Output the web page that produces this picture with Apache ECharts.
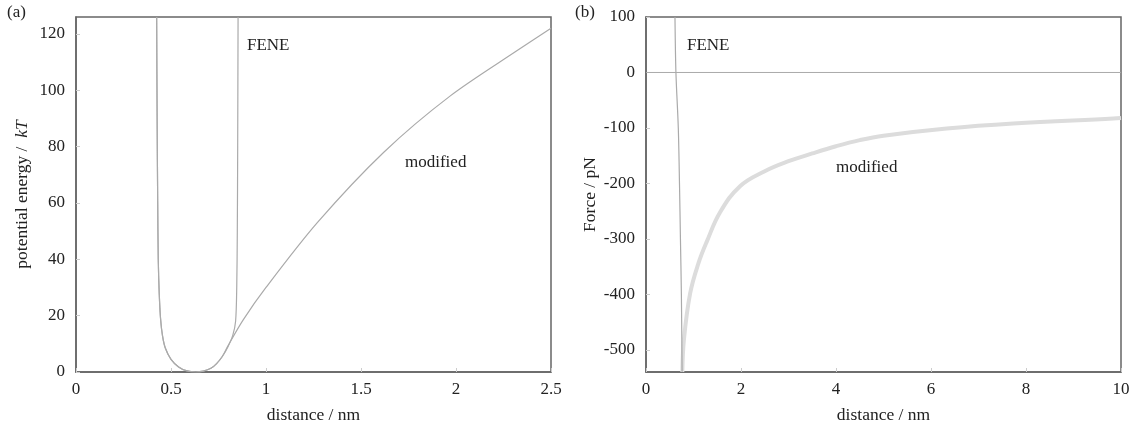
<!DOCTYPE html>
<html>
<head>
<meta charset="utf-8">
<script src="https://cdn.jsdelivr.net/npm/echarts@6/dist/echarts.min.js"></script>
<style>html,body{margin:0;padding:0;background:#fff;}#c{width:1140px;height:429px;}</style>
</head>
<body>
<div id="c"></div>
<script>
// Panel (a): potential energy (kT) vs distance (nm)
var feneEnergy = [[0.4245,126],[0.427,90],[0.430,60],[0.433,40],[0.438,28],[0.445,19],[0.455,13],[0.47,8.5],[0.50,4.5],[0.54,1.8],[0.58,0.5],[0.63,0],[0.67,0.3],[0.71,1.3],[0.74,3],[0.77,5.5],[0.80,9],[0.825,13],[0.840,18],[0.846,30],[0.849,50],[0.851,80],[0.853,126]];
var modifiedEnergy = [[0.4245,126],[0.427,90],[0.430,60],[0.433,40],[0.438,28],[0.445,19],[0.455,13],[0.47,8.5],[0.50,4.5],[0.54,1.8],[0.58,0.5],[0.63,0],[0.67,0.3],[0.71,1.3],[0.74,3],[0.77,5.5],[0.80,9.3],[0.88,18.5],[1.0,30],[1.27,53],[1.62,78],[1.97,98],[2.32,114],[2.5,122]];
var energyTicks = [0,20,40,60,80,100,120];
// Panel (b): force (pN) vs distance (nm)
var feneForce = [[0.61,100],[0.63,0],[0.68,-100],[0.705,-200],[0.725,-300],[0.745,-400],[0.76,-540]];
var modifiedForce = [[0.765,-540],[0.80,-480],[0.93,-398],[1.1,-345],[1.28,-305],[1.56,-252],[1.98,-205],[2.5,-178],[3.0,-160],[3.5,-146],[4.0,-133],[4.5,-122],[5.0,-114],[6.33,-101],[7.73,-92],[9.84,-83],[10,-82]];
var zeroLine = [[0,0],[10,0]];
var forceTicks = [-500,-400,-300,-200,-100,0,100];

var serif = '"Liberation Serif","DejaVu Serif",serif';
var axisCol = '#666';
var labelStyle = {color:'#222', fontFamily:serif, fontSize:17};
function xAx(gi, min, max, interval){
  return {type:'value', gridIndex:gi, min:min, max:max, interval:interval,
    name:'distance / nm', nameLocation:'middle', nameGap:34,
    nameTextStyle:{color:'#222', fontFamily:serif, fontSize:17.5},
    axisLine:{show:true, onZero:false, lineStyle:{color:axisCol, width:1.5}},
    axisTick:{show:true, inside:true, length:4, lineStyle:{color:'#ccc'}},
    axisLabel:Object.assign({margin:9, formatter:function(v){return String(v);}}, labelStyle),
    splitLine:{show:false}};
}
var option = {
  animation:false,
  backgroundColor:'#fff',
  grid:[
    {left:76, right:589, top:17, bottom:57, show:true, borderColor:axisCol, borderWidth:1.5, backgroundColor:'transparent'},
    {left:646, right:19, top:17, bottom:57, show:true, borderColor:axisCol, borderWidth:1.5, backgroundColor:'transparent'}
  ],
  xAxis:[xAx(0,0,2.5,0.5), xAx(1,0,10,2)],
  yAxis:[
    {type:'value', gridIndex:0, min:0, max:126,
     name:'{a|potential energy /  }{b|kT}', nameLocation:'middle', nameGap:45, nameRotate:90,
     nameTextStyle:{color:'#222', fontFamily:serif, fontSize:17.5, rich:{a:{fontFamily:serif,fontSize:17.5,color:'#222'}, b:{fontFamily:serif,fontSize:17.5,color:'#222',fontStyle:'italic'}}},
     axisLine:{show:true, onZero:false, lineStyle:{color:axisCol, width:1.5}},
     axisTick:{show:true, inside:true, length:4, customValues:energyTicks, lineStyle:{color:'#ccc'}},
     axisLabel:Object.assign({margin:11, customValues:energyTicks}, labelStyle),
     splitLine:{show:false}},
    {type:'value', gridIndex:1, min:-540, max:100,
     name:'Force / pN', nameLocation:'middle', nameGap:47, nameRotate:90,
     nameTextStyle:{color:'#222', fontFamily:serif, fontSize:17.5},
     axisLine:{show:true, onZero:false, lineStyle:{color:axisCol, width:1.5}},
     axisTick:{show:true, inside:true, length:4, customValues:forceTicks, lineStyle:{color:'#ccc'}},
     axisLabel:Object.assign({margin:11, customValues:forceTicks}, labelStyle),
     splitLine:{show:false}}
  ],
  series:[
    {type:'line', xAxisIndex:0, yAxisIndex:0, data:modifiedEnergy, showSymbol:false, smooth:0.3, clip:true,
     lineStyle:{color:'#aaa', width:1.2}},
    {type:'line', xAxisIndex:0, yAxisIndex:0, data:feneEnergy, showSymbol:false, smooth:0.3, clip:true,
     lineStyle:{color:'#aaa', width:1.2}},
    {type:'line', xAxisIndex:1, yAxisIndex:1, data:zeroLine, showSymbol:false, clip:true,
     lineStyle:{color:'#aaa', width:1}},
    {type:'line', xAxisIndex:1, yAxisIndex:1, data:modifiedForce, showSymbol:false, smooth:0.4, clip:true,
     lineStyle:{color:'#dcdcdc', width:4}},
    {type:'line', xAxisIndex:1, yAxisIndex:1, data:feneForce, showSymbol:false, smooth:0.3, clip:true,
     lineStyle:{color:'#aaa', width:1.2}}
  ],
  graphic:[
    {type:'text', left:7, top:4, style:{text:'(a)', font:'17px '+serif, fill:'#222'}},
    {type:'text', left:575, top:4, style:{text:'(b)', font:'17px '+serif, fill:'#222'}},
    {type:'text', left:247, top:37, style:{text:'FENE', font:'17px '+serif, fill:'#222'}},
    {type:'text', left:405, top:154, style:{text:'modified', font:'17px '+serif, fill:'#222'}},
    {type:'text', left:687, top:37, style:{text:'FENE', font:'17px '+serif, fill:'#222'}},
    {type:'text', left:836, top:159, style:{text:'modified', font:'17px '+serif, fill:'#222'}}
  ]
};
echarts.init(document.getElementById('c')).setOption(option);
</script>
</body>
</html>
